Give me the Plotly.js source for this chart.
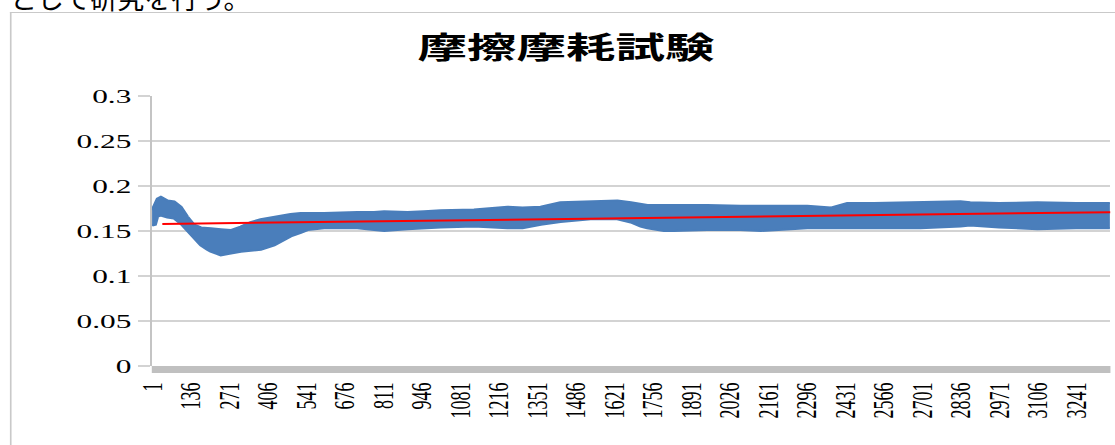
<!DOCTYPE html>
<html>
<head>
<meta charset="utf-8">
<script src="https://cdn.plot.ly/plotly-3.0.1.min.js"></script>
<style>
  html, body { margin: 0; padding: 0; width: 1115px; height: 445px; overflow: hidden; background: #fff; }
  #doctext { position: absolute; left: 10px; top: -16px; font-family: "Noto Sans CJK JP", sans-serif; font-size: 27px; line-height: 27px; color: #000; white-space: nowrap; }
  #wrap { position: absolute; left: 0; top: 0; width: 676px; height: 445px; transform: scaleX(1.65); transform-origin: 0 0; }
  #frame { position: absolute; left: 6px; top: 12px; width: 700px; height: 500px; border-left: 1px solid #c9c9c9; border-top: 1px solid #c9c9c9; }
  #chart { position: absolute; left: 6px; top: 12px; width: 674px; height: 450px; }
</style>
</head>
<body>
<div id="doctext">として研究を行う。</div>
<div id="wrap">
  <div id="frame"></div>
  <div id="chart"></div>
</div>
<script>
// ---- data ----
const chartTitle = "摩擦摩耗試験";
const xTickLabels = ["1","136","271","406","541","676","811","946","1081","1216","1351","1486","1621","1756","1891","2026","2161","2296","2431","2566","2701","2836","2971","3106","3241"];
const yTickValues = [0, 0.05, 0.1, 0.15, 0.2, 0.25, 0.3];
const yTickLabels = ["0", "0.05", "0.1", "0.15", "0.2", "0.25", "0.3"];
// sampled measurement index (category) where the band edges were read
const sampleIndex = [1, 12, 20, 32, 55, 78, 102, 125, 148, 172, 195, 207, 242, 277, 312, 347, 382, 429, 487, 522, 546, 604, 721, 780, 815, 897, 955, 1013, 1130, 1247, 1300, 1364, 1433, 1539, 1633, 1680, 1715, 1738, 1796, 1831, 1948, 2065, 2136, 2183, 2299, 2381, 2439, 2533, 2696, 2836, 2870, 2971, 3106, 3241, 3360];
// upper edge of the friction coefficient band
const frictionUpper = [0.173, 0.182, 0.186, 0.188, 0.184, 0.183, 0.177, 0.166, 0.157, 0.154, 0.153, 0.153, 0.152, 0.151, 0.155, 0.160, 0.163, 0.166, 0.169, 0.170, 0.170, 0.170, 0.171, 0.171, 0.172, 0.171, 0.172, 0.173, 0.174, 0.177, 0.176, 0.177, 0.182, 0.183, 0.184, 0.182, 0.180, 0.179, 0.179, 0.179, 0.179, 0.178, 0.178, 0.178, 0.178, 0.176, 0.181, 0.181, 0.182, 0.183, 0.182, 0.181, 0.182, 0.181, 0.181];
// lower edge of the friction coefficient band
const frictionLower = [0.156, 0.157, 0.166, 0.167, 0.165, 0.164, 0.158, 0.150, 0.142, 0.134, 0.129, 0.127, 0.123, 0.125, 0.127, 0.128, 0.129, 0.134, 0.144, 0.148, 0.151, 0.153, 0.153, 0.151, 0.150, 0.152, 0.153, 0.154, 0.155, 0.153, 0.153, 0.157, 0.160, 0.163, 0.163, 0.1595, 0.155, 0.153, 0.150, 0.150, 0.151, 0.151, 0.150, 0.151, 0.153, 0.153, 0.153, 0.153, 0.153, 0.155, 0.156, 0.154, 0.152, 0.153, 0.153];
// linear trend line
const trendX = [37, 3362];
const trendY = [0.1578, 0.1709];

const bandColor = "#4a7ebb";
const gridColor = "#d3d3d3";

const traces = [
  { x: sampleIndex, y: frictionLower, type: "scatter", mode: "lines",
    line: { color: bandColor, width: 2 }, showlegend: false, hoverinfo: "skip" },
  { x: sampleIndex, y: frictionUpper, type: "scatter", mode: "lines",
    line: { color: bandColor, width: 2 }, fill: "tonexty", fillcolor: bandColor,
    showlegend: false, hoverinfo: "skip" },
  { x: trendX, y: trendY, type: "scatter", mode: "lines",
    line: { color: "#ff0000", width: 2 }, showlegend: false, hoverinfo: "skip" }
];

const layout = {
  width: 674, height: 450,
  margin: { l: 85.5, r: 7.3, t: 84, b: 96, pad: 0, autoexpand: false },
  paper_bgcolor: "rgba(0,0,0,0)", plot_bgcolor: "#ffffff",
  title: { text: chartTitle, x: 0.5, xref: "container", xanchor: "center",
           y: 0.921, yref: "container", yanchor: "middle",
           font: { family: "Noto Sans CJK JP", size: 30, color: "#000", weight: "bold" } },
  xaxis: {
    range: [0, 3362], showgrid: false, zeroline: false, showline: false,
    tickmode: "array", tickvals: xTickLabels.map(Number), ticktext: xTickLabels,
    ticks: "", tickangle: -90, ticklabelstandoff: 12,
    tickfont: { family: "Liberation Serif", size: 18, color: "#000" }
  },
  yaxis: {
    range: [0, 0.3], showgrid: true, gridcolor: gridColor, gridwidth: 1.5, zeroline: false,
    showline: true, linecolor: "#c4c4c4", linewidth: 1.3,
    tickmode: "array", tickvals: yTickValues, ticktext: yTickLabels,
    ticks: "outside", ticklen: 7.3, tickcolor: gridColor, tickwidth: 1.5,
    ticklabelstandoff: 6.5,
    tickfont: { family: "Liberation Serif", size: 19, color: "#000" }
  },
  shapes: [
    { type: "rect", xref: "paper", yref: "paper", x0: 0, x1: 1, y0: 0, y1: -0.026,
      fillcolor: "#c0c0c0", line: { width: 0 }, layer: "above" }
  ]
};

Plotly.newPlot("chart", traces, layout, { staticPlot: true, displayModeBar: false });
</script>
</body>
</html>
